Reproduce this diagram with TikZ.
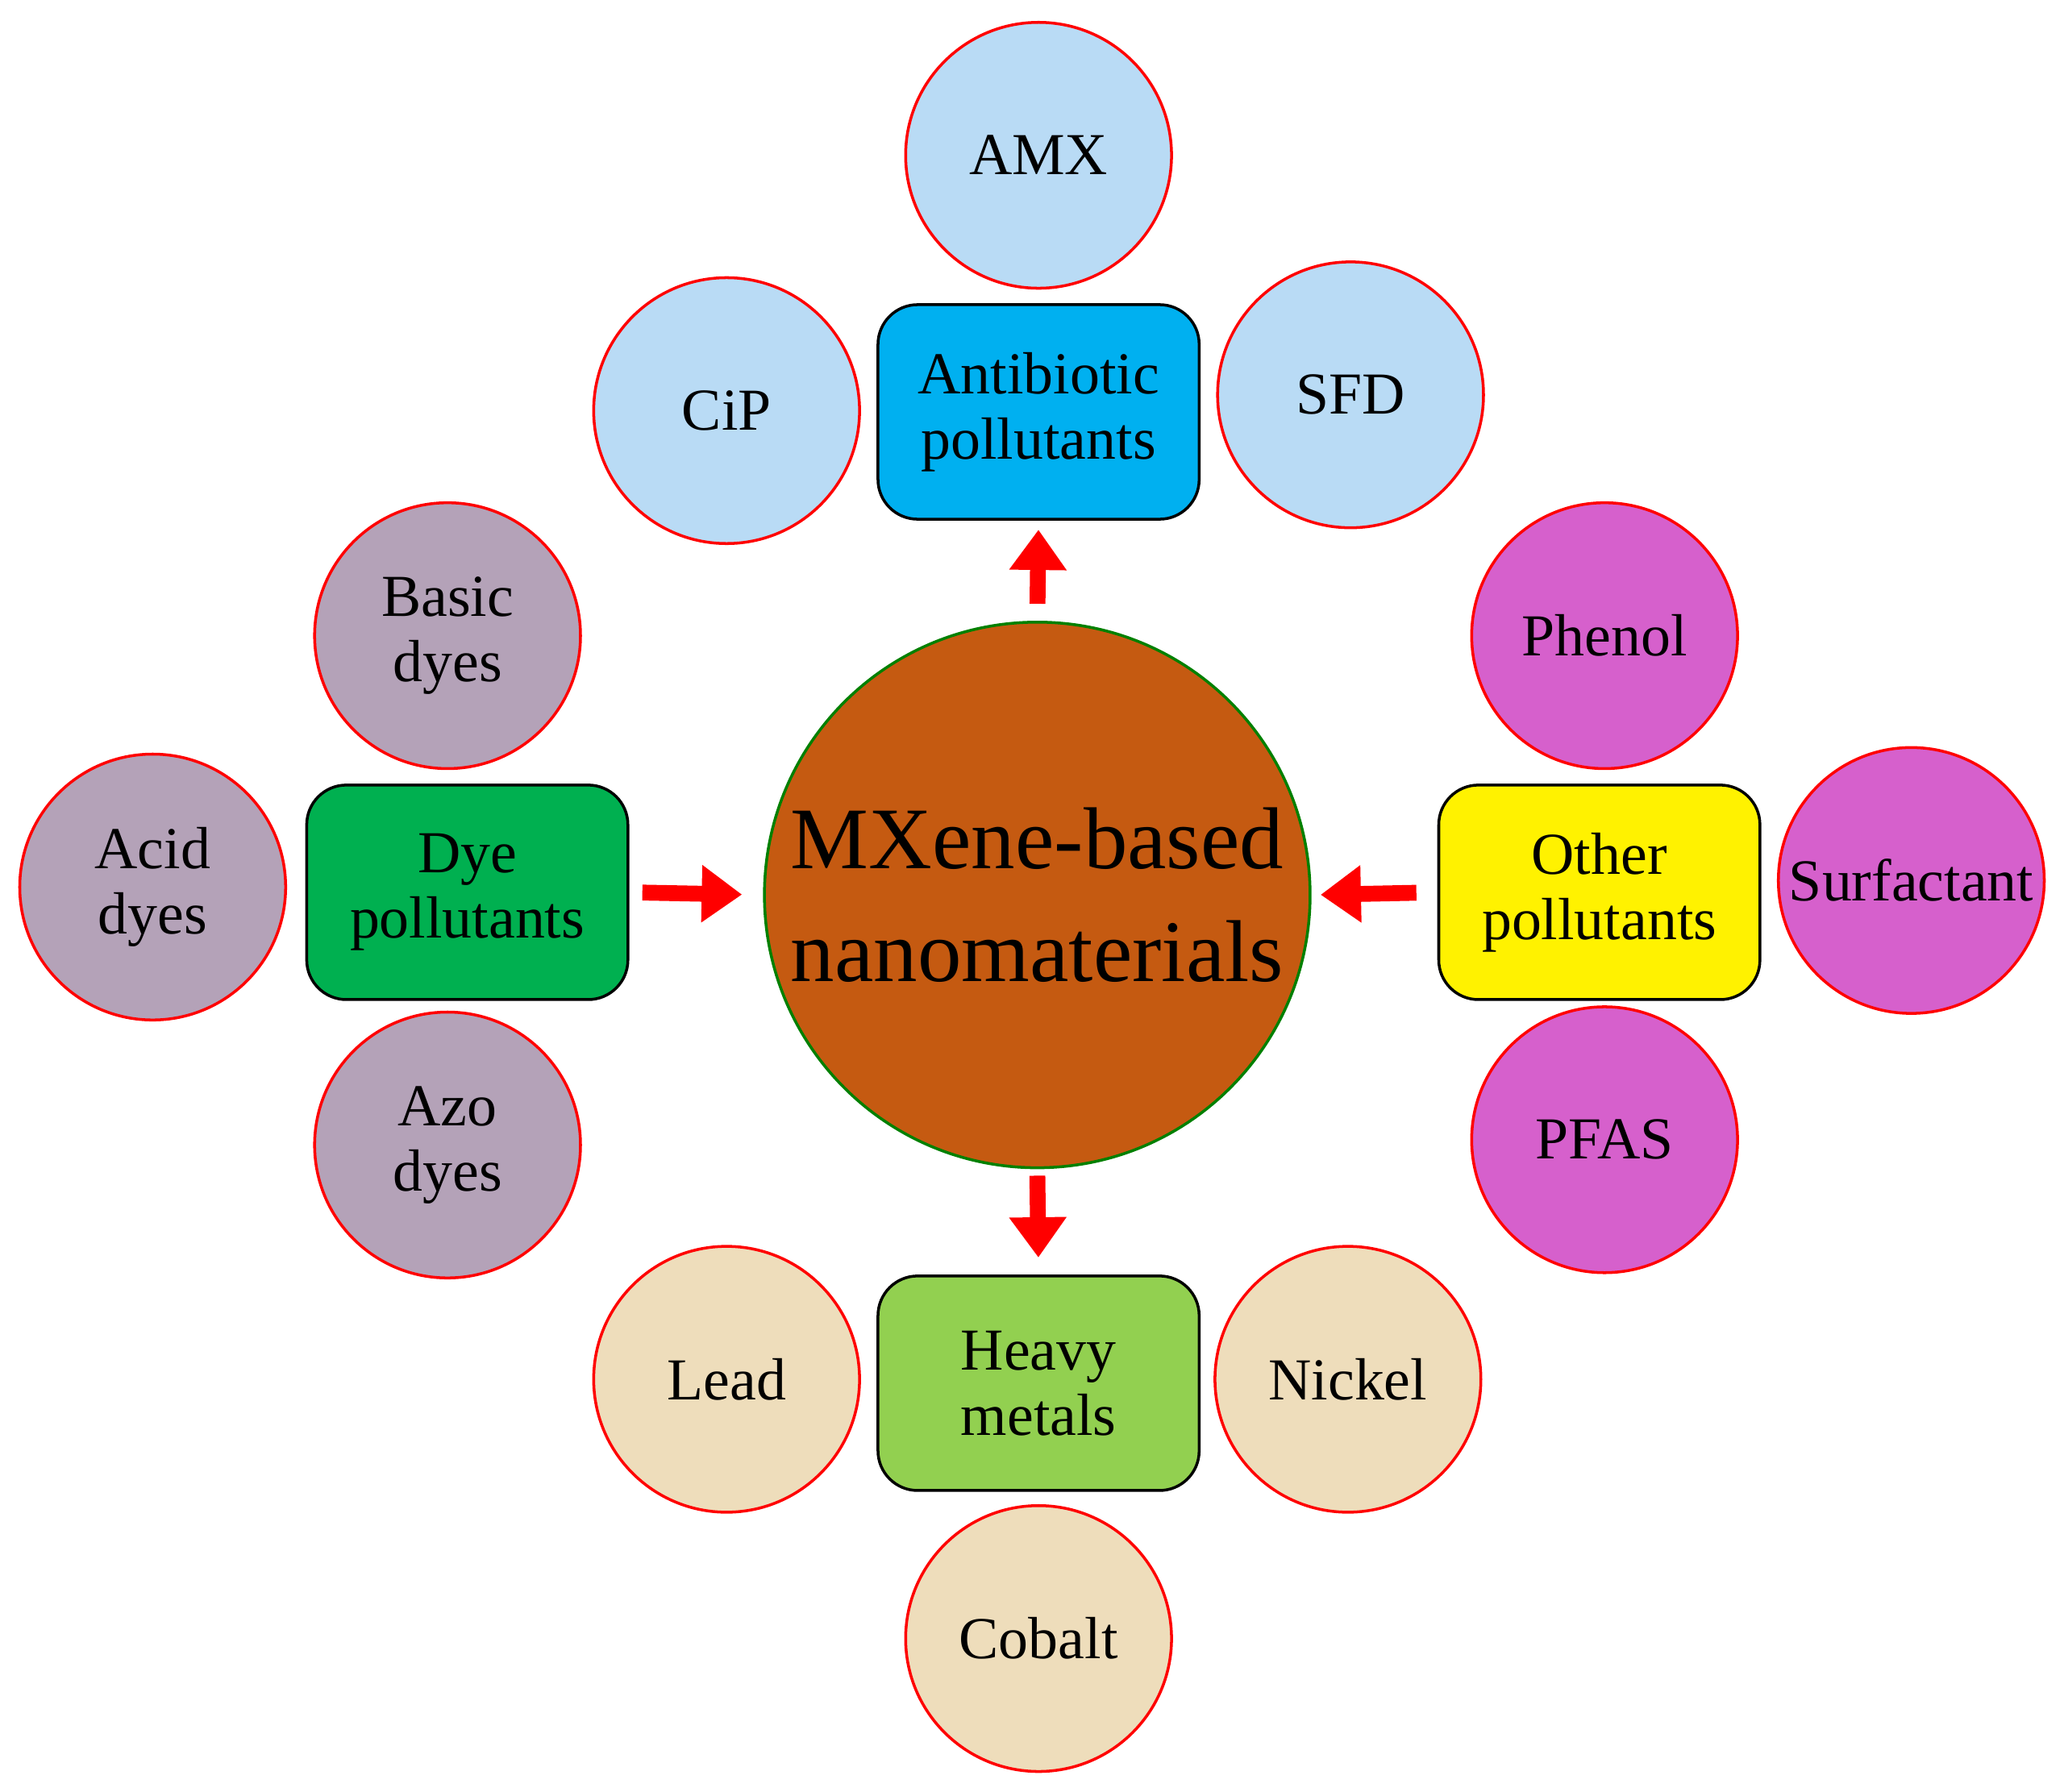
\documentclass[tikz,border=0pt]{standalone}
\usepackage{fontspec}
\setmainfont{Liberation Serif}
\usetikzlibrary{arrows.meta}
\definecolor{lb}{HTML}{B9DBF5}
\definecolor{ab}{HTML}{00B0F0}
\definecolor{dg}{HTML}{00B050}
\definecolor{hm}{HTML}{92D050}
\definecolor{dc}{HTML}{B4A2B8}
\definecolor{oc}{HTML}{D660CC}
\definecolor{bg}{HTML}{EEDDBB}
\definecolor{cc}{HTML}{C55A11}
\begin{document}
\begin{tikzpicture}[x=0.016327cm,y=-0.016327cm,
 sat/.style={circle,draw=red,line width=1pt,minimum size=202*0.016327cm,inner sep=0pt,align=center,font=\fontsize{21}{23}\selectfont},
 box/.style={rounded corners=14pt,draw=black,line width=1pt,minimum width=244*0.016327cm,minimum height=163*0.016327cm,align=center,font=\fontsize{21}{23}\selectfont},
 arr/.style={draw=red,line width=5.6pt,-{Triangle[length=0.5cm,width=0.68cm]}}]
\useasboundingbox (0,0) rectangle (1568,1361);
\node[circle,fill=cc,draw=green!50!black,line width=1pt,minimum size=390*0.016327cm,align=center,font=\fontsize{31}{40}\selectfont] (c) at (788,680) {MXene-based\\nanomaterials};
\node[box,fill=ab] (anti) at (789,313) {Antibiotic\\pollutants};
\node[box,fill=dg] (dye) at (355,678) {Dye\\pollutants};
\node[box,fill=yellow] (oth) at (1215,678) {Other\\pollutants};
\node[box,fill=hm] (hm) at (789,1051) {Heavy\\metals};
\node[sat,fill=lb] (amx) at (789,118) {AMX};
\node[sat,fill=lb] (cip) at (552,312) {CiP};
\node[sat,fill=lb] (sfd) at (1026,300) {SFD};
\node[sat,fill=dc] (basic) at (340,483) {Basic\\dyes};
\node[sat,fill=dc] (acid) at (116,674) {Acid\\dyes};
\node[sat,fill=dc] (azo) at (340,870) {Azo\\dyes};
\node[sat,fill=oc] (phe) at (1219,483) {Phenol};
\node[sat,fill=oc] (sur) at (1452,669) {Surfactant};
\node[sat,fill=oc] (pfas) at (1219,866) {PFAS};
\node[sat,fill=bg] (lead) at (552,1048) {Lead};
\node[sat,fill=bg] (ni) at (1024,1048) {Nickel};
\node[sat,fill=bg] (co) at (789,1245) {Cobalt};
\draw[arr,shorten <=6pt,shorten >=3.2pt] (c.north) -- (anti.south);
\draw[arr,shorten <=2.3pt,shorten >=6pt] (c.south) -- (hm.north);
\draw[arr,shorten <=4.6pt,shorten >=7.4pt] (dye.east) -- (c.west);
\draw[arr,shorten <=7.4pt,shorten >=3.2pt] (oth.west) -- (c.east);
\end{tikzpicture}
\end{document}
